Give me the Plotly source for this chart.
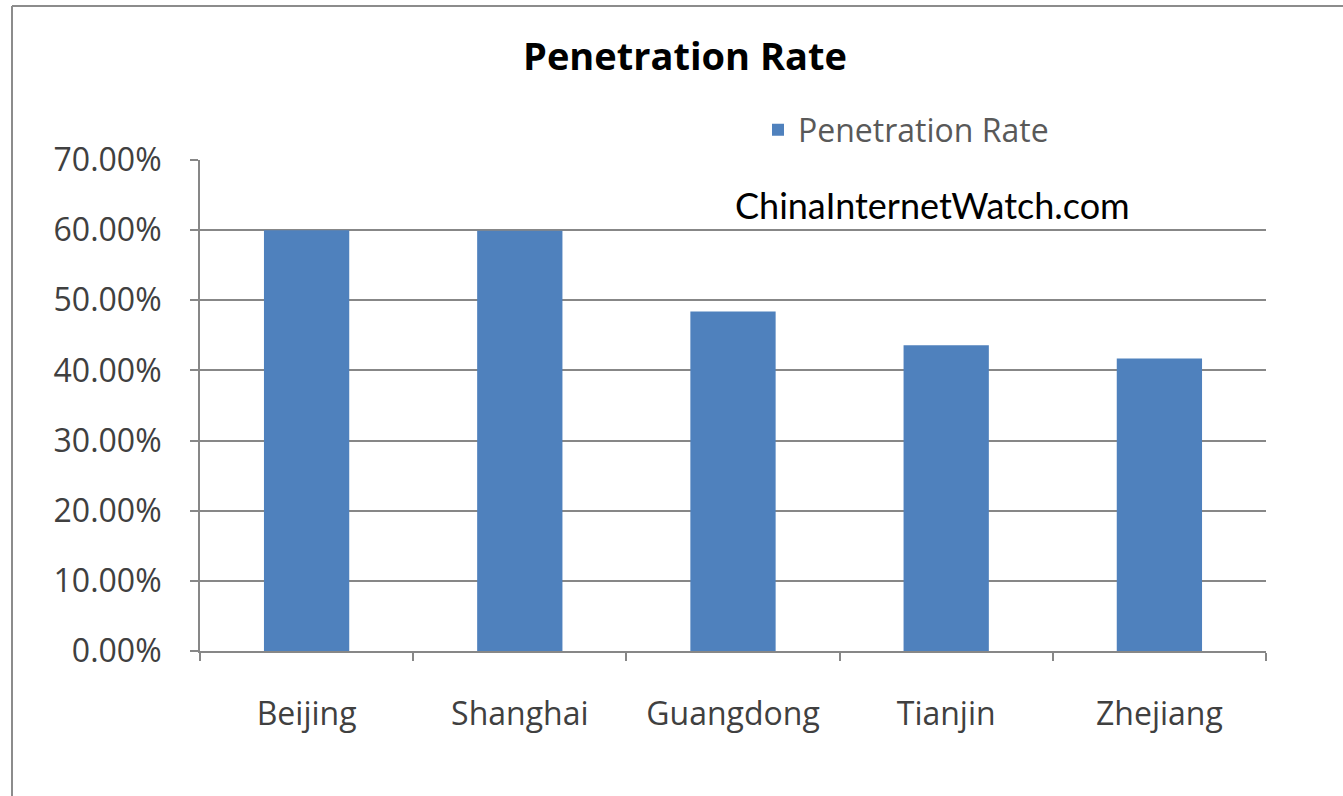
import plotly.graph_objects as go

# Internet penetration rate by province
provinces = ["Beijing", "Shanghai", "Guangdong", "Tianjin", "Zhejiang"]
penetration = [0.600, 0.599, 0.484, 0.436, 0.417]
series_name = "Penetration Rate"
y_ticks = [0.0, 0.1, 0.2, 0.3, 0.4, 0.5, 0.6, 0.7]

W, H = 1343, 796
L, R, T, B = 200, 77, 160, 145
pw, ph = W - L - R, H - T - B

BAR = "#4F81BD"
GRID = "#878787"
TXT = "#404040"
FONT = "Open Sans"

fig = go.Figure(
    go.Bar(
        x=provinces,
        y=penetration,
        name=series_name,
        marker=dict(color=BAR, line=dict(width=0)),
        showlegend=True,
    )
)

# outer chart frame (top and left edges)
fx0 = (12 - L) / pw
fy1 = 1 + (T - 6) / ph
fig.add_shape(type="line", xref="paper", yref="paper", x0=fx0, x1=1 + R / pw + 0.01,
              y0=fy1, y1=fy1, line=dict(color="#8c8c8c", width=2))
fig.add_shape(type="line", xref="paper", yref="paper", x0=fx0, x1=fx0,
              y0=fy1, y1=-B / ph - 0.01, line=dict(color="#8c8c8c", width=2))

fig.add_annotation(
    text="ChinaInternetWatch.com", xref="paper", yref="paper",
    x=(733 - L) / pw, y=(H - B - 205) / ph, xanchor="left", yanchor="middle",
    showarrow=False, font=dict(family="Lato", size=36, color="#000000"),
)

fig.update_layout(
    width=W, height=H,
    margin=dict(l=L, r=R, t=T, b=B),
    paper_bgcolor="white", plot_bgcolor="white",
    bargap=0.6,
    title=dict(text="<b>Penetration Rate</b>", x=685 / W, xref="container", xanchor="center",
               y=1 - 57 / H, yanchor="middle",
               font=dict(family=FONT, size=38, color="#000000")),
    legend=dict(x=(758 - L) / pw, y=(H - B - 130) / ph, xanchor="left", yanchor="middle",
                font=dict(family=FONT, size=32, color="#595959"),
                bgcolor="rgba(0,0,0,0)", itemwidth=30),
    font=dict(family=FONT, color=TXT),
)

fig.update_xaxes(
    showline=True, linecolor=GRID, linewidth=2,
    ticks="outside", tickson="boundaries", ticklen=8, tickcolor=GRID, tickwidth=2,
    tickfont=dict(family=FONT, size=32, color=TXT),
    ticklabelstandoff=34,
    showgrid=False,
)
fig.update_yaxes(
    range=[0, 0.7], tickvals=y_ticks, tickformat=".2%",
    showline=True, linecolor=GRID, linewidth=2,
    ticks="outside", ticklen=8, tickcolor=GRID, tickwidth=2,
    showgrid=True, gridcolor=GRID, gridwidth=2,
    zeroline=False,
    tickfont=dict(family=FONT, size=32, color=TXT),
    ticklabelstandoff=22,
)

fig.write_html("out.html")
